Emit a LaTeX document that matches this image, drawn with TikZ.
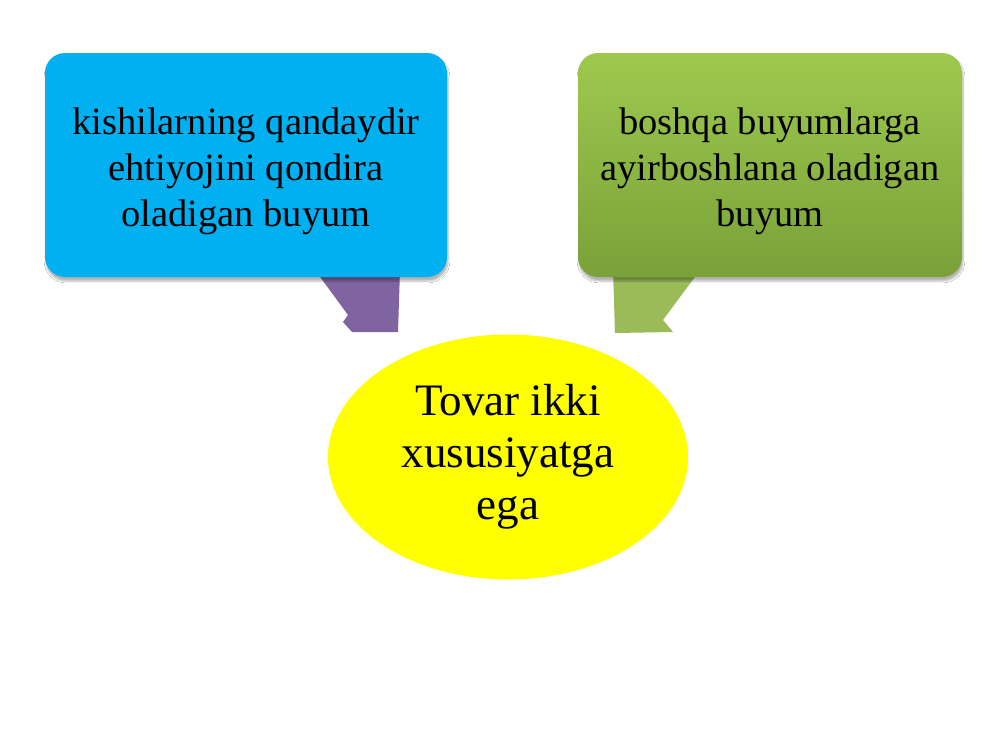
\documentclass[tikz,border=0pt]{standalone}
\usepackage{fontspec}
\setmainfont{Liberation Serif}
\usetikzlibrary{shapes.geometric,shadows.blur}
\definecolor{boxblue}{HTML}{00B0F0}
\definecolor{greentop}{HTML}{9DC94F}
\definecolor{greenbot}{HTML}{7AA138}
\definecolor{arrpurple}{HTML}{8064A2}
\definecolor{arrgreen}{HTML}{9BBB59}
\definecolor{ellyellow}{HTML}{FFFF00}
\begin{document}
\begin{tikzpicture}[x=1pt,y=-1pt,
  boxstyle/.style={rounded corners=20pt, minimum height=224pt, align=center,
    font=\fontsize{38.5}{46}\selectfont, inner sep=0pt,
    blur shadow={shadow xshift=1pt,shadow yshift=-4pt,shadow blur steps=6,shadow opacity=30}},
  ellstyle/.style={ellipse, fill=ellyellow, minimum width=360pt, minimum height=245pt,
    align=center, font=\fontsize{45}{52}\selectfont, inner sep=0pt}]
\useasboundingbox[fill=white] (0,0) rectangle (1000,750);
% arrows (drawn first, partly hidden behind the boxes)
\fill[arrpurple] (315,270) -- (348,315) -- (343,322) -- (352,332) -- (398,332) -- (400,270) -- cycle;
\fill[arrgreen] (613,270) -- (615,333) -- (673,332) -- (663,320) -- (700,270) -- cycle;
% boxes
\node[boxstyle, fill=boxblue, minimum width=402pt] (left) at (246,165) {};
\node[align=center, font=\fontsize{38.5}{46}\selectfont, inner sep=0pt] (lefttext) at (246,171)
  {kishilarning qandaydir\\ehtiyojini qondira\\oladigan buyum};
\node[boxstyle, top color=greentop, bottom color=greenbot, minimum width=384pt] (right) at (770,165) {};
\node[align=center, font=\fontsize{38.5}{46}\selectfont, inner sep=0pt] (righttext) at (770,171)
  {boshqa buyumlarga\\ayirboshlana oladigan\\buyum};
% ellipse
\node[ellstyle] (center) at (508,457) {};
\node[align=center, font=\fontsize{45}{52}\selectfont, inner sep=0pt] (centertext) at (508,457)
  {Tovar ikki\\xususiyatga\\ega};
\end{tikzpicture}
\end{document}
